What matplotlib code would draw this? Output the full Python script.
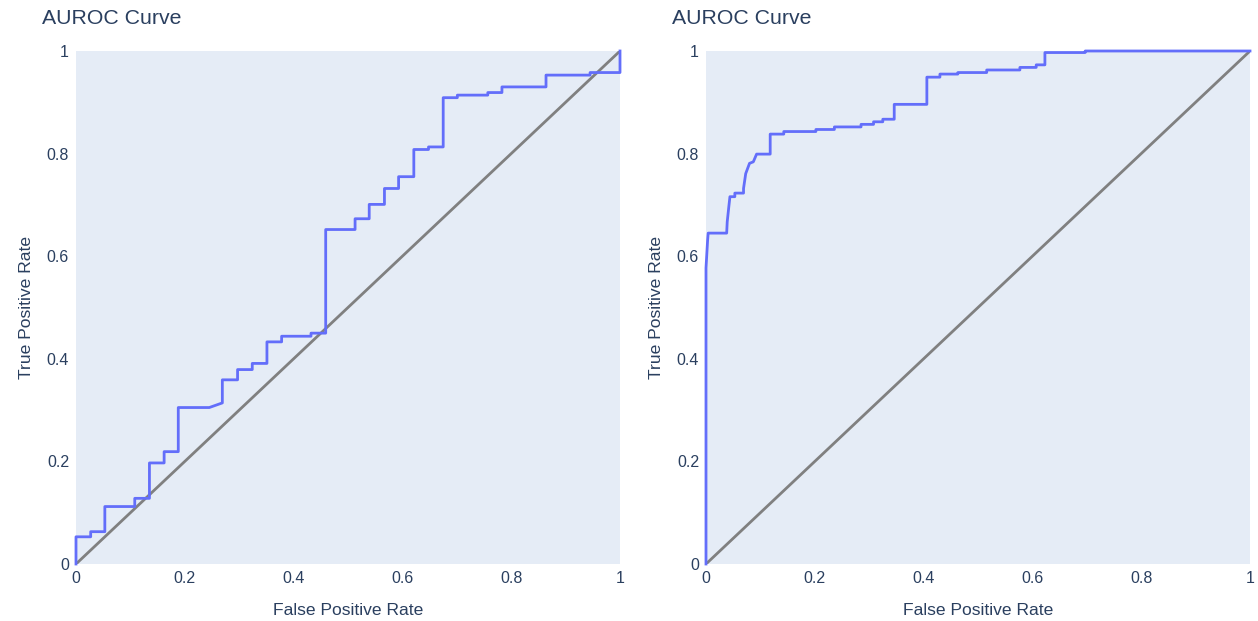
import matplotlib.pyplot as plt

plt.rcParams["font.family"] = ["Liberation Sans", "DejaVu Sans"]

TEXT_COLOR = "#2a3f5f"
BG_COLOR = "#E5ECF6"
CURVE_COLOR = "#636EFA"

# ROC corner points
left_fpr = [0, 0, 0.027, 0.027, 0.053, 0.053, 0.108, 0.108, 0.135, 0.135, 0.162, 0.162,
            0.188, 0.188, 0.245, 0.269, 0.269, 0.297, 0.297, 0.324, 0.324, 0.351, 0.351,
            0.378, 0.378, 0.432, 0.432, 0.459, 0.459, 0.513, 0.513, 0.539, 0.539, 0.567,
            0.567, 0.593, 0.593, 0.621, 0.621, 0.648, 0.648, 0.675, 0.675, 0.701, 0.701,
            0.757, 0.757, 0.783, 0.783, 0.864, 0.864, 0.945, 0.945, 1.0, 1.0]
left_tpr = [0, 0.053, 0.053, 0.063, 0.063, 0.112, 0.112, 0.128, 0.128, 0.197, 0.197, 0.219,
            0.219, 0.305, 0.305, 0.314, 0.359, 0.359, 0.379, 0.379, 0.391, 0.391, 0.433,
            0.433, 0.444, 0.444, 0.450, 0.450, 0.652, 0.652, 0.673, 0.673, 0.701, 0.701,
            0.732, 0.732, 0.755, 0.755, 0.808, 0.808, 0.813, 0.813, 0.909, 0.909, 0.914,
            0.914, 0.919, 0.919, 0.930, 0.930, 0.953, 0.953, 0.958, 0.958, 1.0]

right_fpr = [0, 0, 0.003, 0.004, 0.038, 0.039, 0.042, 0.044, 0.053, 0.053, 0.069, 0.069,
             0.073, 0.080, 0.087, 0.093, 0.118, 0.118, 0.143, 0.143, 0.202, 0.202, 0.236,
             0.236, 0.285, 0.285, 0.308, 0.308, 0.325, 0.325, 0.346, 0.346, 0.406, 0.406,
             0.430, 0.430, 0.463, 0.463, 0.516, 0.516, 0.577, 0.577, 0.607, 0.607, 0.623,
             0.623, 0.697, 0.697, 1.0]
right_tpr = [0, 0.577, 0.632, 0.645, 0.645, 0.667, 0.697, 0.716, 0.716, 0.723, 0.723, 0.732,
             0.761, 0.781, 0.784, 0.799, 0.799, 0.838, 0.838, 0.843, 0.843, 0.847, 0.847,
             0.852, 0.852, 0.857, 0.857, 0.862, 0.862, 0.867, 0.867, 0.896, 0.896, 0.949,
             0.949, 0.955, 0.955, 0.958, 0.958, 0.963, 0.963, 0.968, 0.968, 0.973, 0.973,
             0.997, 0.997, 1.0, 1.0]

chance = [0, 1]
ticks = [0, 0.2, 0.4, 0.6, 0.8, 1]
tick_labels = ["0", "0.2", "0.4", "0.6", "0.8", "1"]

fig = plt.figure(figsize=(12.58, 6.21), dpi=100)

panels = [
    (76, left_fpr, left_tpr, 42),
    (706, right_fpr, right_tpr, 672),
]

for x0, fpr, tpr, title_x in panels:
    ax = fig.add_axes([x0 / 1258, 57 / 621, 544 / 1258, 513 / 621])
    ax.set_facecolor(BG_COLOR)
    ax.plot(chance, chance, color="#808080", linewidth=2, zorder=2)
    ax.plot(fpr, tpr, color=CURVE_COLOR, linewidth=2, zorder=3, clip_on=False)
    ax.set_xlim(0, 1)
    ax.set_ylim(0, 1)
    ax.set_xticks(ticks)
    ax.set_xticklabels(tick_labels)
    ax.set_yticks(ticks)
    ax.set_yticklabels(tick_labels)
    ax.tick_params(length=0, labelsize=11.5, labelcolor=TEXT_COLOR, pad=5)
    for s in ax.spines.values():
        s.set_visible(False)
    ax.set_xlabel("False Positive Rate", fontsize=12.6, color=TEXT_COLOR, labelpad=12.5)
    ax.set_ylabel("True Positive Rate", fontsize=12.6, color=TEXT_COLOR, labelpad=9)
    fig.text(title_x / 1258, 1 - 18 / 621, "AUROC Curve", fontsize=15.3,
             color=TEXT_COLOR, ha="left", va="center")

fig.savefig("out.png", dpi=100, facecolor="white")
